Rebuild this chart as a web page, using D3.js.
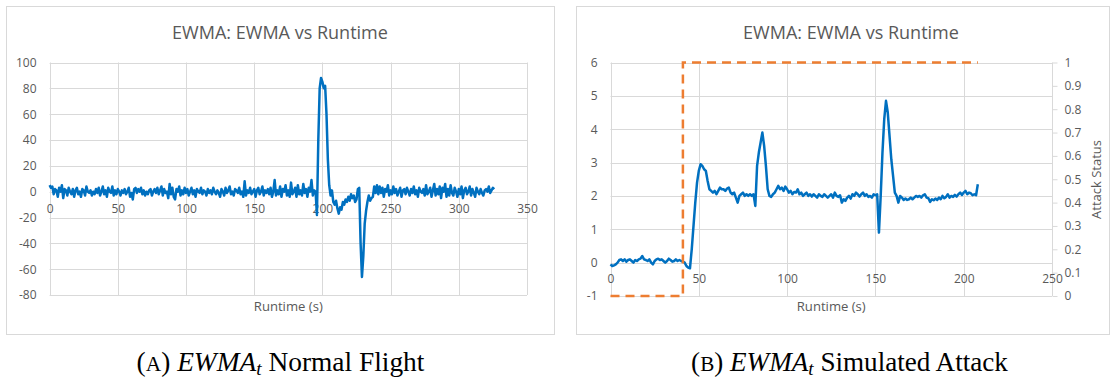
<!DOCTYPE html>
<html>
<head>
<meta charset="utf-8">
<script src="https://cdn.jsdelivr.net/npm/d3@7"></script>
<style>
  body { margin: 0; background: #fff; }
  svg { display: block; }
</style>
</head>
<body>
<svg id="fig" width="1112" height="380"></svg>
<script>
// ---- data -------------------------------------------------------------
// EWMA sampled once per second of runtime (index = runtime in s)
const normalEwma = [
  5,3,4,-2,2,1,-4,3,0,5,-5,2,1,-3,3,0,-2,2,-4,1,
  3,-2,0,-4,2,1,-3,4,0,-1,1,-3,0,-2,2,-1,3,-3,0,4,
  -2,1,-4,3,0,-1,4,-3,1,-2,2,0,-3,1,-1,2,-2,0,3,-4,
  -1,-6,2,3,-1,2,0,3,-2,1,-3,0,-2,1,2,-3,0,2,-1,3,
  -2,1,4,-3,2,-1,0,-5,6,-2,3,-4,-6,2,0,4,-3,1,-2,3,
  -1,2,-3,0,3,-2,1,-4,2,0,-1,3,-2,1,0,-3,2,-1,1,-2,
  3,0,-2,1,-1,-4,2,0,-3,3,-1,1,4,-2,0,-3,2,1,-1,3,
  -2,0,-4,8,-3,1,-1,3,-2,0,2,-4,1,3,-2,0,4,-3,1,-1,
  2,-2,3,-4,0,9,-3,1,-2,4,-4,2,0,5,-3,1,-4,7,-2,0,
  3,-4,5,-2,1,-3,6,-1,2,-4,3,0,9,-3,1,0,
  -18,40,80,88,85,80,82,60,25,5,
  -3,1,-8,-10,-7,-13,-17,-12,-14,-8,
  -10,-6,-8,-4,-7,-2,-5,-3,-8,-6,
  2,3,-40,-66,-50,-25,-15,-8,-3,-7,
  -5,-4,4,-1,5,
  -2,4,-1,3,-4,2,0,5,-3,1,-2,4,-1,2,-3,0,3,-4,1,2,
  -2,3,0,-3,2,-1,4,-2,1,-4,3,0,-1,2,-3,5,-2,0,3,-4,
  1,6,-3,2,-2,4,-5,3,0,6,-4,2,-3,5,-1,-3,3,0,-4,2,
  -2,4,-5,1,3,-2,0,4,-3,2,-1,-4,3,0,-2,2,-1,-3,1,2,
  0,4,-1,1,3,2
];

const attackEwma = [
  -0.05,-0.1,-0.08,-0.05,0.0,0.08,0.1,0.05,0.1,0.03,0.08,0.1,0.05,0.0,0.08,0.05,0.1,0.12,0.2,0.1,
  0.08,0.05,0.1,0.0,-0.05,0.05,0.1,0.12,0.08,0.1,0.05,0.0,0.05,0.12,0.08,0.03,0.05,0.1,0.05,0.08,
  0.05,0.03,0.0,-0.1,-0.15,-0.17,
  0.4,1.1,1.8,2.4,2.75,2.95,2.9,2.8,2.75,2.45,2.2,2.15,2.1,2.15,2.05,2.15,2.25,2.2,2.2,2.15,
  2.22,2.25,2.1,2.05,2.1,1.95,1.8,2.0,2.05,2.1,2.0,2.05,2.0,2.05,2.0,2.05,
  1.7,2.9,3.3,3.6,3.9,3.5,2.9,2.2,2.0,
  1.97,2.05,2.1,2.2,2.3,2.2,2.25,2.15,2.28,2.2,2.1,2.15,2.05,2.12,2.1,2.2,2.05,2.1,2.0,2.05,
  2.1,2.0,2.05,1.98,2.05,2.0,1.95,2.05,2.0,1.97,2.05,2.0,1.95,2.0,2.05,1.95,2.1,2.0,1.97,2.02,
  1.8,1.9,1.85,1.95,2.0,1.92,2.05,2.0,2.1,2.05,1.98,2.05,2.1,2.0,2.05,1.97,2.0,1.95,2.05,2.02,
  2.05,0.9,2.0,3.3,4.3,4.85,4.5,3.8,3.1,2.6,2.1,2.0,1.8,
  2.0,1.95,1.88,1.92,1.88,1.9,1.95,1.9,1.95,2.0,1.97,2.0,1.95,2.02,2.05,1.95,1.93,
  1.82,1.9,1.87,1.92,1.88,1.95,1.9,2.0,1.93,1.97,2.05,1.95,2.0,1.97,2.03,1.98,2.05,2.1,2.03,2.1,
  2.15,2.05,2.1,2.08,2.02,2.05,2.02,2.35
];

// attack status (0 = nominal, 1 = under attack) as a step
const statusTime = [0, 41, 41, 208];
const statusValue = [0, 0, 1, 1];

const normalXTicks = [0, 50, 100, 150, 200, 250, 300, 350];
const normalYTicks = [100, 80, 60, 40, 20, 0, -20, -40, -60, -80];
const attackXTicks = [0, 50, 100, 150, 200, 250];
const attackYTicks = [6, 5, 4, 3, 2, 1, 0, -1];
const statusTicks = [1, 0.9, 0.8, 0.7, 0.6, 0.5, 0.4, 0.3, 0.2, 0.1, 0];

const chartTitle = "EWMA: EWMA vs Runtime";
const xTitle = "Runtime (s)";
const y2Title = "Attack Status";

// ---- styles -----------------------------------------------------------
const FONT = "'Open Sans', 'Noto Sans', sans-serif";
const TEXT = "#595959";
const GRID = "#d9d9d9";
const BLUE = "#0070c0";
const ORANGE = "#ed7d31";

const svg = d3.select("#fig");

function fitText(sel, width) {
  const size = parseFloat(sel.attr("font-size"));
  const w = sel.node().getComputedTextLength();
  sel.attr("font-size", size * width / w);
}

function panel(box) {
  svg.append("rect")
    .attr("x", box.x + 0.5).attr("y", box.y + 0.5)
    .attr("width", box.w).attr("height", box.h)
    .attr("fill", "#fff").attr("stroke", GRID).attr("stroke-width", 1);
}

function grid(g, x, y, xt, yt) {
  const [x0, x1] = x.range();
  const [y0, y1] = y.range();
  g.append("g").selectAll("line").data(yt).join("line")
    .attr("x1", x0).attr("x2", x1)
    .attr("y1", d => Math.round(y(d)) + 0.5).attr("y2", d => Math.round(y(d)) + 0.5)
    .attr("stroke", GRID).attr("stroke-width", 1);
  g.append("g").selectAll("line").data(xt).join("line")
    .attr("y1", y0).attr("y2", y1)
    .attr("x1", d => Math.round(x(d)) + 0.5).attr("x2", d => Math.round(x(d)) + 0.5)
    .attr("stroke", GRID).attr("stroke-width", 1);
}

function styleAxis(g) {
  g.select(".domain").remove();
  g.selectAll("text").attr("fill", TEXT).attr("font-family", FONT).attr("font-size", 12);
}

function titles(cx, plotCx, titleW) {
  const t = svg.append("text").text(chartTitle)
    .attr("x", cx).attr("y", 38.5).attr("text-anchor", "middle")
    .attr("font-family", FONT).attr("font-size", 18).attr("fill", TEXT);
  fitText(t, titleW);
  const a = svg.append("text").text(xTitle)
    .attr("x", plotCx).attr("y", 311).attr("text-anchor", "middle")
    .attr("font-family", FONT).attr("font-size", 13).attr("fill", TEXT);
  fitText(a, 69);
}

// ---- (A) normal flight ------------------------------------------------
{
  panel({ x: 6, y: 6, w: 548, h: 328 });
  const x = d3.scaleLinear().domain([0, 350]).range([49.6, 527]);
  const y = d3.scaleLinear().domain([-80, 100]).range([295, 62.5]);
  const g = svg.append("g");
  grid(g, x, y, normalXTicks, normalYTicks);

  g.append("g").attr("transform", `translate(${x(0)},0)`)
    .call(d3.axisLeft(y).tickValues(normalYTicks).tickSize(0).tickPadding(13).tickFormat(d => String(d)))
    .call(styleAxis);
  g.append("g").attr("transform", `translate(0,${y(0)})`)
    .call(d3.axisBottom(x).tickValues(normalXTicks).tickSize(0).tickPadding(13).tickFormat(d => String(d)))
    .call(styleAxis);

  const line = d3.line().x((d, i) => x(i)).y(d => y(d));
  g.append("path").datum(normalEwma).attr("d", line)
    .attr("fill", "none").attr("stroke", BLUE).attr("stroke-width", 2.5)
    .attr("stroke-linejoin", "round");

  titles(280, (x(0) + x(350)) / 2, 216);
}

// ---- (B) simulated attack ---------------------------------------------
{
  panel({ x: 576, y: 6, w: 533, h: 328 });
  const x = d3.scaleLinear().domain([0, 250]).range([610.5, 1052]);
  const y = d3.scaleLinear().domain([-1, 6]).range([296, 62.5]);
  const y2 = d3.scaleLinear().domain([0, 1]).range([296, 62.5]);
  const g = svg.append("g");
  grid(g, x, y, attackXTicks, attackYTicks);

  g.append("g").attr("transform", `translate(${x(0)},0)`)
    .call(d3.axisLeft(y).tickValues(attackYTicks).tickSize(0).tickPadding(13).tickFormat(d => String(d)))
    .call(styleAxis);
  g.append("g").attr("transform", `translate(0,${y(0)})`)
    .call(d3.axisBottom(x).tickValues(attackXTicks).tickSize(0).tickPadding(12).tickFormat(d => String(d)))
    .call(styleAxis);
  const right = g.append("g").attr("transform", `translate(${Math.round(x(250)) + 0.5},0)`)
    .call(d3.axisRight(y2).tickValues(statusTicks).tickSize(5).tickPadding(7).tickFormat(d => String(d)))
    .call(styleAxis);
  right.selectAll(".tick line").attr("stroke", GRID);

  const line = d3.line().x((d, i) => x(i)).y(d => y(d));
  g.append("path").datum(attackEwma).attr("d", line)
    .attr("fill", "none").attr("stroke", BLUE).attr("stroke-width", 2.5)
    .attr("stroke-linejoin", "round");

  const stepLine = d3.line().x(d => x(d[0])).y(d => y2(d[1]));
  g.append("path").datum(d3.zip(statusTime, statusValue)).attr("d", stepLine)
    .attr("fill", "none").attr("stroke", ORANGE).attr("stroke-width", 2.5)
    .attr("stroke-dasharray", "9,6");

  titles(851, (x(0) + x(250)) / 2, 216);

  const s = svg.append("text").text(y2Title)
    .attr("transform", "translate(1101,179.5) rotate(-90)")
    .attr("text-anchor", "middle")
    .attr("font-family", FONT).attr("font-size", 13).attr("fill", TEXT);
  fitText(s, 79);
}

// ---- sub-figure captions ----------------------------------------------
function caption(cx, letter, rest, width) {
  const t = svg.append("text")
    .attr("x", cx).attr("y", 371).attr("text-anchor", "middle")
    .attr("font-family", "'Liberation Serif', 'DejaVu Serif', serif")
    .attr("font-size", 21).attr("fill", "#000");
  t.append("tspan").text("(");
  t.append("tspan").text(letter).attr("font-size", "0.78em");
  t.append("tspan").text(") ");
  t.append("tspan").text("EWMA").attr("font-style", "italic");
  t.append("tspan").text("t").attr("font-style", "italic")
    .attr("font-size", "0.7em").attr("baseline-shift", "-20%");
  t.append("tspan").text(" " + rest);
  fitText(t, width);
}
caption(280.5, "A", "Normal Flight", 288);
caption(849.5, "B", "Simulated Attack", 317);
</script>
</body>
</html>
